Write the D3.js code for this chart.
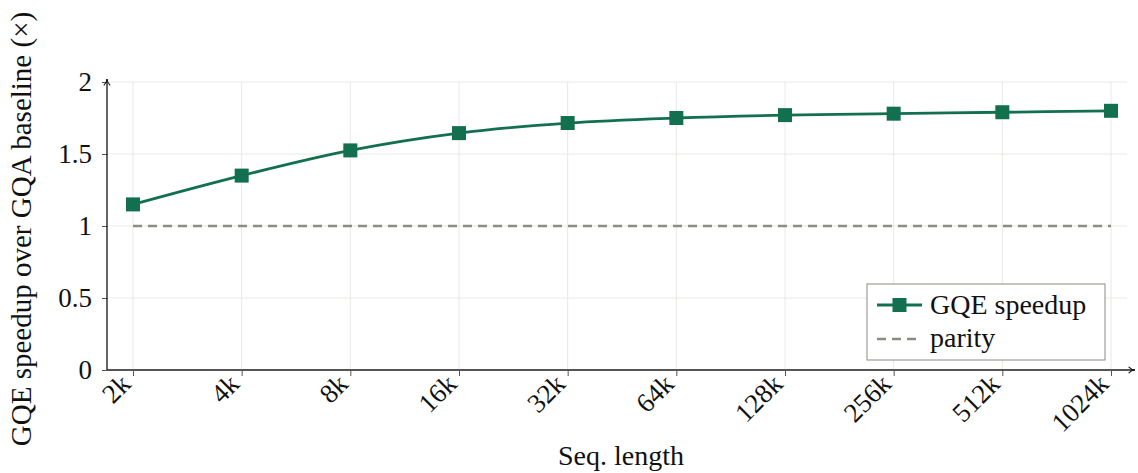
<!DOCTYPE html>
<html><head><meta charset="utf-8">
<script src="https://cdn.jsdelivr.net/npm/d3@7"></script>
<style>body{margin:0;background:#fff}svg{display:block}text{font-family:"Liberation Serif","DejaVu Serif",serif;fill:#111}</style>
</head><body><svg id="c" width="1138" height="473"></svg>
<script>
const categories = ["2k","4k","8k","16k","32k","64k","128k","256k","512k","1024k"];
const speedup = [1.15, 1.35, 1.525, 1.645, 1.715, 1.75, 1.77, 1.78, 1.79, 1.80];
const parity = categories.map(() => 1);
const yTicks = [0, 0.5, 1, 1.5, 2];
const yTickLabels = ["0","0.5","1","1.5","2"];

const svg = d3.select("#c");
const L = 107, R = 1135, T = 82, B = 370;
const x = d3.scalePoint().domain(categories).range([133, 1111]);
const y = d3.scaleLinear().domain([0, 2]).range([B, T]);
const green = "#12704f", gray = "#8c8c84", axisCol = "#555";
const FS = "27px";

// grid
svg.append("g").selectAll("line").data(categories).join("line")
  .attr("x1", d => x(d)).attr("x2", d => x(d)).attr("y1", T).attr("y2", B)
  .attr("stroke", "#e8e8e4").attr("stroke-width", 1);
svg.append("g").selectAll("line").data(yTicks).join("line")
  .attr("x1", L).attr("x2", R - 8).attr("y1", d => y(d)).attr("y2", d => y(d))
  .attr("stroke", "#e8e8e4").attr("stroke-width", 1);

// axes
const yAxis = d3.axisLeft(y).tickValues(yTicks).tickFormat((d, i) => yTickLabels[i]).tickSize(5).tickPadding(10);
const gy = svg.append("g").attr("transform", `translate(${L},0)`).call(yAxis);
gy.select(".domain").remove();
gy.selectAll(".tick line").attr("stroke", axisCol);
gy.selectAll(".tick text").style("font-size", FS).style("font-family", '"Liberation Serif",serif').attr("fill", "#111");

const xAxis = d3.axisBottom(x).tickSize(6).tickPadding(4);
const gx = svg.append("g").attr("transform", `translate(0,${B})`).call(xAxis);
gx.select(".domain").remove();
gx.selectAll(".tick line").attr("stroke", axisCol);
gx.selectAll(".tick text").style("font-size", FS).style("font-family", '"Liberation Serif",serif').attr("fill", "#111")
  .attr("text-anchor", "end").attr("dy", "0.35em")
  .attr("transform", "translate(-8,9) rotate(-45)").attr("x", 0).attr("y", 0);

// axis lines with arrows
const defs = svg.append("defs");
defs.append("marker").attr("id", "arr").attr("viewBox", "0 0 10 10").attr("refX", 9).attr("refY", 5)
  .attr("markerWidth", 8).attr("markerHeight", 8).attr("orient", "auto-start-reverse").attr("markerUnits", "userSpaceOnUse")
  .append("path").attr("d", "M1,1 Q5,5 9,5 Q5,5 1,9").attr("fill", "none").attr("stroke", "#111").attr("stroke-width", 1.3);
svg.append("line").attr("x1", L).attr("x2", R).attr("y1", B).attr("y2", B)
  .attr("stroke", axisCol).attr("stroke-width", 2).attr("marker-end", "url(#arr)");
svg.append("line").attr("x1", L).attr("x2", L).attr("y1", B).attr("y2", T - 3)
  .attr("stroke", "#111").attr("stroke-width", 1.3).attr("marker-end", "url(#arr)");

// parity
svg.append("path").datum(parity)
  .attr("d", d3.line().x((d, i) => x(categories[i])).y(d => y(d)))
  .attr("fill", "none").attr("stroke", gray).attr("stroke-width", 2.5).attr("stroke-dasharray", "9,6");

// speedup
svg.append("path").datum(speedup)
  .attr("d", d3.line().x((d, i) => x(categories[i])).y(d => y(d)).curve(d3.curveCatmullRom.alpha(0.5)))
  .attr("fill", "none").attr("stroke", green).attr("stroke-width", 2.8);
svg.append("g").selectAll("rect").data(speedup).join("rect")
  .attr("x", (d, i) => x(categories[i]) - 7).attr("y", d => y(d) - 7)
  .attr("width", 14).attr("height", 14).attr("fill", green);

// labels
svg.append("text").attr("x", 621).attr("y", 465).attr("text-anchor", "middle").style("font-size", "28px").text("Seq. length");
svg.append("text").attr("transform", "translate(31,229) rotate(-90)").attr("text-anchor", "middle")
  .style("font-size", "29px").text("GQE speedup over GQA baseline (×)");

// legend
const lg = svg.append("g").attr("transform", "translate(867,284)");
lg.append("rect").attr("width", 238).attr("height", 76).attr("fill", "#fff").attr("stroke", "#8a8a84").attr("stroke-width", 1);
lg.append("line").attr("x1", 10).attr("x2", 55).attr("y1", 21).attr("y2", 21).attr("stroke", green).attr("stroke-width", 2.8);
lg.append("rect").attr("x", 25.5).attr("y", 14).attr("width", 14).attr("height", 14).attr("fill", green);
lg.append("text").attr("x", 63).attr("y", 30).style("font-size", "28px").text("GQE speedup");
lg.append("line").attr("x1", 10).attr("x2", 55).attr("y1", 55).attr("y2", 55).attr("stroke", gray).attr("stroke-width", 2.5).attr("stroke-dasharray", "9,6");
lg.append("text").attr("x", 63).attr("y", 63).style("font-size", "28px").text("parity");
</script></body></html>
